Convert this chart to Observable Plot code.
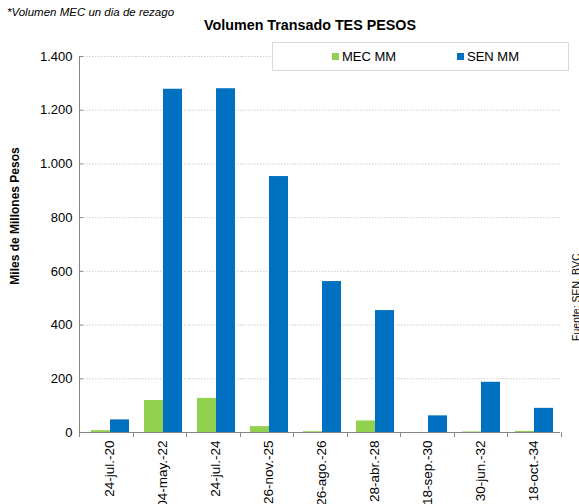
<!DOCTYPE html>
<html>
<head>
<meta charset="utf-8">
<script src="https://cdn.jsdelivr.net/npm/d3@7"></script>
<script src="https://cdn.jsdelivr.net/npm/@observablehq/plot@0.6"></script>
<style>
  html, body { margin: 0; padding: 0; background: #fff; }
  body { width: 579px; height: 504px; overflow: hidden; font-family: "Liberation Sans", Arial, sans-serif; }
  #wrap { position: relative; width: 579px; height: 504px; overflow: hidden; }
  #wrap svg { position: absolute; left: 0; top: 0; }
  .note { position: absolute; left: 7px; top: 6px; font-size: 11.5px; font-style: italic; color: #000; white-space: nowrap; }
  .title { position: absolute; left: 0; width: 620px; top: 17px; text-align: center; font-size: 14.3px; font-weight: bold; color: #000; white-space: nowrap; }
  .legend { position: absolute; left: 272px; top: 42px; width: 297px; height: 29px; background: #fff; border: 1px solid #d9d9d9; box-sizing: border-box; }
  .legend .item { position: absolute; top: 6px; font-size: 13px; color: #000; white-space: nowrap; }
  .legend .sw { display: inline-block; width: 7px; height: 7px; margin-right: 3px; vertical-align: 1px; }
  .ylab { position: absolute; left: 15px; top: 216px; transform: translate(-50%, -50%) rotate(-90deg); font-size: 12px; font-weight: bold; white-space: nowrap; color: #000; }
  .source { position: absolute; left: 581px; top: 341px; transform-origin: 0 0; transform: rotate(-90deg) translateY(-100%); font-size: 10.5px; white-space: nowrap; color: #000; line-height: 1; }
</style>
</head>
<body>
<div id="wrap"></div>
<script>
// ---- data ----
const categories = ["24-jul.-20", "04-may.-22", "24-jul.-24", "26-nov.-25", "26-ago.-26", "28-abr.-28", "18-sep.-30", "30-jun.-32", "18-oct.-34"];
const seriesNames = ["MEC MM", "SEN MM"];
const mecValues = [7, 119, 127, 22, 3, 43, 0, 2, 4];
const senValues = [47, 1278, 1280, 953, 562, 454, 62, 187, 90];
const yTicks = [0, 200, 400, 600, 800, 1000, 1200, 1400];
const seriesColors = ["#92D050", "#0070C0"];
const titleText = "Volumen Transado TES PESOS";
const noteText = "*Volumen MEC un dia de rezago";
const yLabelText = "Miles de Millones Pesos";
const sourceText = "Fuente: SEN, BVC";

const rows = [];
categories.forEach((c, i) => {
  rows.push({cat: c, series: seriesNames[0], value: mecValues[i]});
  rows.push({cat: c, series: seriesNames[1], value: senValues[i]});
});

const fmt = d3.formatLocale({decimal: ",", thousands: ".", grouping: [3], currency: ["$", ""]}).format(",d");
const axisGray = "#868686";

const chart = Plot.plot({
  width: 579,
  height: 504,
  marginLeft: 80,
  marginRight: 17,
  marginTop: 56,
  marginBottom: 72,
  style: {fontFamily: "'Liberation Sans', Arial, sans-serif", fontSize: "13px", background: "transparent", color: "#000"},
  fx: {domain: categories, padding: 0, label: null},
  x: {domain: seriesNames, paddingInner: 0, paddingOuter: 0.37, axis: null},
  y: {domain: [0, 1400], label: null},
  color: {domain: seriesNames, range: seriesColors},
  marks: [
    Plot.gridY(yTicks.filter(d => d > 0), {stroke: "#cfcfcf", strokeOpacity: 1, strokeDasharray: "1.5,1.5"}),
    Plot.barY(rows, {fx: "cat", x: "series", y: "value", fill: "series"}),
    Plot.ruleY([0], {stroke: axisGray}),
    Plot.axisY({ticks: yTicks, tickFormat: fmt, tickSize: 4, tickPadding: 7, stroke: axisGray, fill: "#000", fontSize: 13, label: null}),
    Plot.axisFx({anchor: "bottom", tickSize: 0, tickPadding: 8, tickRotate: -90, fontSize: 13.5, label: null, fill: "#000"})
  ]
});

const wrap = document.getElementById("wrap");
wrap.appendChild(chart);

// axis lines and category boundary ticks, derived from the plot's own scales
const fxs = chart.scale("fx");
const ys = chart.scale("y");
const y0 = ys.apply(0), yTop = ys.apply(1400);
const r0 = fxs.range[0], r1 = fxs.range[1];
const step = (r1 - r0) / categories.length;
const svg = d3.select(chart);
const g = svg.append("g").attr("stroke", axisGray).attr("stroke-width", 1);
g.append("line").attr("x1", r0 - 0.5).attr("x2", r0 - 0.5).attr("y1", yTop).attr("y2", y0 + 0.5);
for (let i = 0; i <= categories.length; i++) {
  const x = Math.round(r0 + i * step) - 0.5;
  g.append("line").attr("x1", x).attr("x2", x).attr("y1", y0).attr("y2", y0 + 5);
}

// texts and legend
function addDiv(cls, text) {
  const d = document.createElement("div");
  d.className = cls;
  if (text != null) d.textContent = text;
  wrap.appendChild(d);
  return d;
}
addDiv("note", noteText);
addDiv("title", titleText);
addDiv("ylab", yLabelText);
addDiv("source", sourceText);
const leg = addDiv("legend");
const legLeft = [59, 184];
seriesNames.forEach((s, i) => {
  const it = document.createElement("div");
  it.className = "item";
  it.style.left = legLeft[i] + "px";
  const sw = document.createElement("span");
  sw.className = "sw";
  sw.style.background = seriesColors[i];
  it.appendChild(sw);
  it.appendChild(document.createTextNode(s));
  leg.appendChild(it);
});
</script>
</body>
</html>
